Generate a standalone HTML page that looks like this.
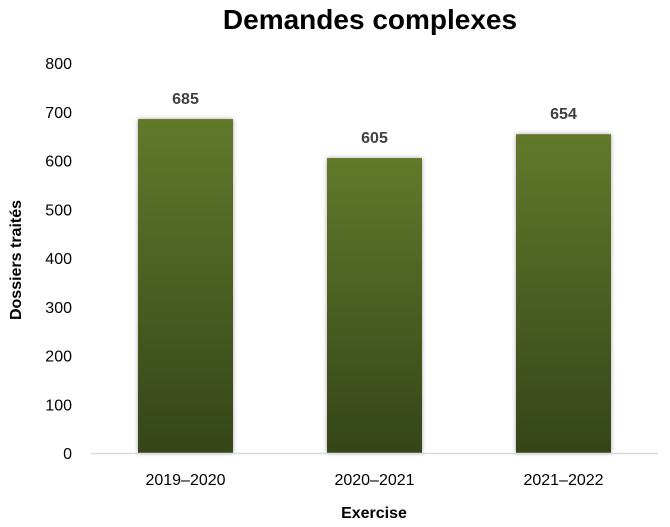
<!DOCTYPE html>
<html><head><meta charset="utf-8"><style>
body{margin:0;background:#fff}
svg{display:block;font-family:"Liberation Sans",sans-serif}
</style></head><body>
<svg id="chart" width="670" height="527">
<defs>
<linearGradient id="g" x1="0" y1="0" x2="0" y2="1"><stop offset="0" stop-color="#62792b"/><stop offset="1" stop-color="#354518"/></linearGradient>
<filter id="sh" x="-20%" y="-20%" width="140%" height="140%"><feGaussianBlur stdDeviation="2.5"/></filter>
</defs>
<text x="370" y="29" text-anchor="middle" font-size="28" font-weight="bold" fill="#000">Demandes complexes</text>
<text transform="translate(21,260) rotate(-90)" text-anchor="middle" font-size="16" font-weight="bold" fill="#000">Dossiers traités</text>
<text x="374" y="518" text-anchor="middle" font-size="16" font-weight="bold" fill="#000">Exercise</text>
<g id="plot"></g>
</svg>
<script>
const categories=["2019–2020","2020–2021","2021–2022"];
const values=[685,605,654];
const yTicks=[0,100,200,300,400,500,600,700,800];
const ns="http://www.w3.org/2000/svg";
const g=document.getElementById('plot');
const x0=91,x1=658,y0=453,y1=63,yMax=800;
const y=v=>y0-(v/yMax)*(y0-y1);
const band=(x1-x0)/categories.length;
const bw=95;
function mk(t,a){const e=document.createElementNS(ns,t);for(const k in a)e.setAttribute(k,a[k]);g.appendChild(e);return e;}
yTicks.forEach(t=>{
 const e=mk('text',{x:72,y:y(t)+6,'text-anchor':'end','font-size':16,fill:'#000'});
 e.textContent=t;
 
 
});
categories.forEach((c,i)=>{
 const cx=x0+band*(i+0.5);
 const s=mk('rect',{x:cx-bw/2,y:y(values[i]),width:bw,height:y0-y(values[i]),fill:'#000',opacity:0.35,filter:'url(#sh)'});
 
 
 const r=mk('rect',{x:cx-bw/2,y:y(values[i]),width:bw,height:y0-y(values[i]),fill:'url(#g)'});
 
 
 const l=mk('text',{x:cx,y:y(values[i])-15,'text-anchor':'middle','font-size':16,'font-weight':'bold',fill:'#404040'});
 l.textContent=values[i];
 
 
 const xl=mk('text',{x:cx,y:485,'text-anchor':'middle','font-size':16,fill:'#000'});
 xl.textContent=c;
 
 
});
const ax=mk('line',{x1:x0,x2:x1,y1:y0+0.5,y2:y0+0.5,stroke:'#d9d9d9','stroke-width':1.5});


</script>
</body></html>
